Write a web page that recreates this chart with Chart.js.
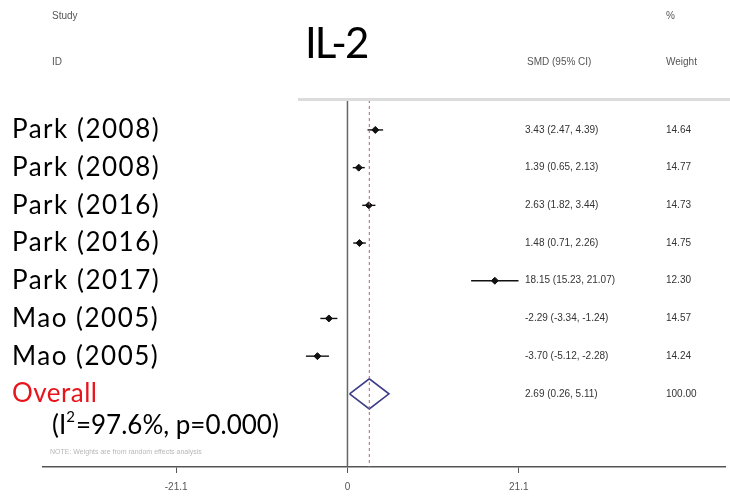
<!DOCTYPE html>
<html>
<head>
<meta charset="utf-8">
<script src="https://cdn.jsdelivr.net/npm/chart.js@4.4.1/dist/chart.umd.min.js"></script>
<style>
  html, body { margin: 0; padding: 0; background: #fff; }
  #wrap { width: 730px; height: 501px; position: relative; }
</style>
</head>
<body>
<div id="wrap"><canvas id="forest"></canvas></div>
<script>
const studies = ["Park (2008)", "Park (2008)", "Park (2016)", "Park (2016)", "Park (2017)", "Mao (2005)", "Mao (2005)"];
const smd = [3.43, 1.39, 2.63, 1.48, 18.15, -2.29, -3.70];
const lower = [2.47, 0.65, 1.82, 0.71, 15.23, -3.34, -5.12];
const upper = [4.39, 2.13, 3.44, 2.26, 21.07, -1.24, -2.28];
const weights = [14.64, 14.77, 14.73, 14.75, 12.30, 14.57, 14.24];

const overallSmd = 2.69;
const overallLower = 0.26;
const overallUpper = 5.11;
const overallWeight = 100.0;

const xTicks = [-21.1, 0, 21.1];

const X_MIN = -37.5, X_MAX = 46.5;
const Y_MIN = 0.206, Y_MAX = 9.94;
const overallRow = studies.length + 1;

const fmt = (v) => v.toFixed(2);

// one short line per study for the confidence interval
const ciSets = studies.map((s, i) => ({
  type: "line",
  data: [{ x: lower[i], y: i + 1 }, { x: upper[i], y: i + 1 }],
  borderColor: "#111",
  borderWidth: 1.4,
  pointRadius: 0,
}));

const datasets = [
  // line of no effect
  {
    type: "line",
    data: [{ x: 0, y: Y_MIN }, { x: 0, y: Y_MAX }],
    borderColor: "#666",
    borderWidth: 1.5,
    pointRadius: 0,
  },
  // overall effect, dashed
  {
    type: "line",
    data: [{ x: overallSmd, y: Y_MIN }, { x: overallSmd, y: Y_MAX }],
    borderColor: "#b5607a",
    borderWidth: 1,
    borderDash: [3, 3],
    pointRadius: 0,
  },
  ...ciSets,
  {
    type: "scatter",
    data: smd.map((v, i) => ({ x: v, y: i + 1 })),
    backgroundColor: "#111",
    borderColor: "#111",
    pointStyle: "rectRot",
    pointRadius: 3.5,
  },
  // pooled diamond
  {
    type: "line",
    data: [
      { x: overallLower, y: overallRow },
      { x: overallSmd, y: overallRow - 0.4 },
      { x: overallUpper, y: overallRow },
      { x: overallSmd, y: overallRow + 0.4 },
      { x: overallLower, y: overallRow },
    ],
    borderColor: "#3c3c86",
    borderWidth: 1.6,
    pointRadius: 0,
    tension: 0,
  },
];

const textPlugin = {
  id: "forestText",
  afterDraw(chart) {
    const c = chart.ctx;
    const y = chart.scales.y;
    c.save();

    // grey rule above the plot
    c.fillStyle = "#dcdcdc";
    c.fillRect(298, 98, 432, 3);

    c.textBaseline = "middle";
    c.textAlign = "left";

    // small column headers
    c.fillStyle = "#555";
    c.font = "10px 'Liberation Sans', Arial, sans-serif";
    c.fillText("Study", 52, 16);
    c.fillText("ID", 52, 62);
    c.fillText("SMD (95% CI)", 527, 62);
    c.fillText("%", 666, 16);
    c.fillText("Weight", 666, 62);

    // title
    c.fillStyle = "#000";
    c.font = "42px Lato, sans-serif";
    c.letterSpacing = "-2px";
    c.fillText("IL-2", 305, 44);
    c.letterSpacing = "0px";

    // study names
    c.font = "26px Lato, sans-serif";
    c.letterSpacing = "1.5px";
    studies.forEach((s, i) => {
      c.fillText(s, 12, y.getPixelForValue(i + 1));
    });
    c.letterSpacing = "0.5px";
    c.fillStyle = "#e8141c";
    c.fillText("Overall", 12, y.getPixelForValue(overallRow));
    c.fillStyle = "#000";
    c.letterSpacing = "0px";
    const hy = y.getPixelForValue(overallRow) + 32;
    c.fillText("(I", 52, hy);
    let xx = 52 + c.measureText("(I").width;
    c.font = "15px Lato, sans-serif";
    c.fillText("2", xx, hy - 9);
    xx += c.measureText("2").width + 1;
    c.font = "26px Lato, sans-serif";
    c.fillText("=97.6%, p=0.000)", xx, hy);

    // estimate and weight columns
    c.fillStyle = "#333";
    c.font = "10px 'Liberation Sans', Arial, sans-serif";
    studies.forEach((s, i) => {
      const py = y.getPixelForValue(i + 1);
      c.fillText(`${fmt(smd[i])} (${fmt(lower[i])}, ${fmt(upper[i])})`, 525, py);
      c.fillText(fmt(weights[i]), 666, py);
    });
    const oy = y.getPixelForValue(overallRow);
    c.fillText(`${fmt(overallSmd)} (${fmt(overallLower)}, ${fmt(overallUpper)})`, 525, oy);
    c.fillText(fmt(overallWeight), 666, oy);

    // faded note
    c.fillStyle = "#b8b8b8";
    c.font = "7px 'Liberation Sans', Arial, sans-serif";
    c.fillText("NOTE: Weights are from random effects analysis", 50, 452);

    c.restore();
  },
};

new Chart(document.getElementById("forest"), {
  type: "scatter",
  data: { datasets },
  options: {
    responsive: true,
    maintainAspectRatio: false,
    animation: false,
    layout: { padding: { left: 43, right: 0, top: 100, bottom: 0 } },
    plugins: {
      legend: { display: false },
      tooltip: { enabled: false },
    },
    scales: {
      x: {
        type: "linear",
        min: X_MIN,
        max: X_MAX,
        afterBuildTicks: (axis) => {
          axis.ticks = xTicks.map((v) => ({ value: v }));
        },
        grid: {
          display: true,
          drawOnChartArea: false,
          drawTicks: true,
          tickLength: 6,
          color: "#555",
        },
        border: { display: true, color: "#555", width: 1.5 },
        ticks: {
          color: "#555",
          padding: 8,
          maxRotation: 0,
          font: { size: 10, family: "'Liberation Sans', Arial, sans-serif" },
          callback: (v) => String(v),
        },
      },
      y: {
        type: "linear",
        display: false,
        reverse: true,
        min: Y_MIN,
        max: Y_MAX,
      },
    },
  },
  plugins: [textPlugin],
});
</script>
</body>
</html>
